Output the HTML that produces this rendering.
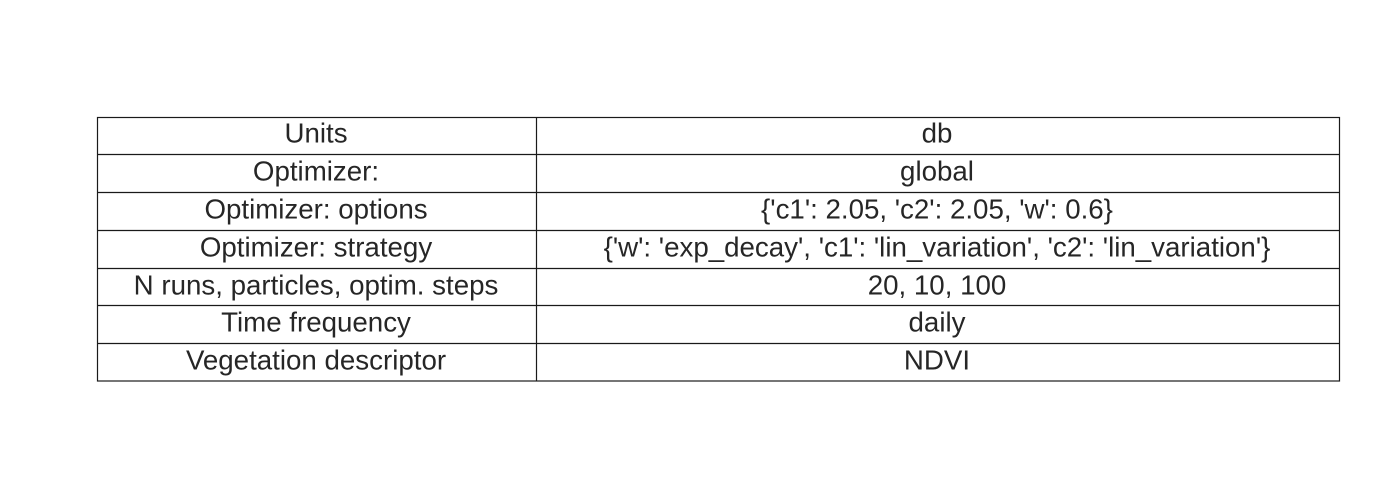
<!DOCTYPE html>
<html><head><meta charset="utf-8"><style>
html,body{margin:0;padding:0;background:#fff;width:1400px;height:500px;overflow:hidden}
text{font-family:"Liberation Sans",Arial,sans-serif;font-size:27.7px;fill:#262626;text-anchor:middle;dominant-baseline:central}
</style></head><body>
<svg width="1400" height="500" xmlns="http://www.w3.org/2000/svg">
<g fill="none" stroke="#1a1a1a" stroke-width="1.2">
<rect x="97.5" y="117.5" width="1242" height="263.5"/>
<line x1="536.5" y1="117.5" x2="536.5" y2="381"/>
<line x1="97.5" y1="154.5" x2="1339.5" y2="154.5"/>
<line x1="97.5" y1="192.5" x2="1339.5" y2="192.5"/>
<line x1="97.5" y1="230.5" x2="1339.5" y2="230.5"/>
<line x1="97.5" y1="268.5" x2="1339.5" y2="268.5"/>
<line x1="97.5" y1="305.5" x2="1339.5" y2="305.5"/>
<line x1="97.5" y1="343.5" x2="1339.5" y2="343.5"/>
</g>
<g>
<text x="316" y="133">Units</text><text x="937" y="133">db</text>
<text x="316" y="171">Optimizer:</text><text x="937" y="171">global</text>
<text x="316" y="209">Optimizer: options</text><text x="937" y="209">{'c1': 2.05, 'c2': 2.05, 'w': 0.6}</text>
<text x="316" y="247">Optimizer: strategy</text><text x="937" y="247">{'w': 'exp_decay', 'c1': 'lin_variation', 'c2': 'lin_variation'}</text>
<text x="316" y="285">N runs, particles, optim. steps</text><text x="937" y="285">20, 10, 100</text>
<text x="316" y="322">Time frequency</text><text x="937" y="322">daily</text>
<text x="316" y="360">Vegetation descriptor</text><text x="937" y="360">NDVI</text>
</g>
</svg>
</body></html>
